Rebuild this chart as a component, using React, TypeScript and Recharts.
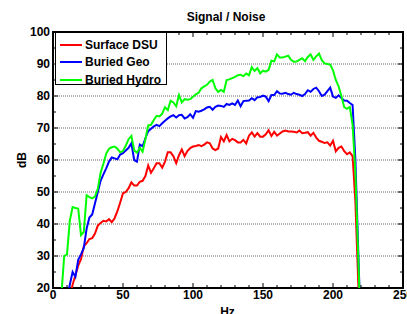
import { LineChart, Line, XAxis, YAxis, ReferenceLine, ReferenceArea, Legend } from 'recharts'

// frequency axis (Hz), sampled every 2 Hz
const FREQ = [
  4, 6, 8, 10, 12, 14, 16, 18, 20, 22,
  24, 26, 28, 30, 32, 34, 36, 38, 40, 42,
  44, 46, 48, 50, 52, 54, 56, 58, 60, 62,
  64, 66, 68, 70, 72, 74, 76, 78, 80, 82,
  84, 86, 88, 90, 92, 94, 96, 98, 100, 102,
  104, 106, 108, 110, 112, 114, 116, 118, 120, 122,
  124, 126, 128, 130, 132, 134, 136, 138, 140, 142,
  144, 146, 148, 150, 152, 154, 156, 158, 160, 162,
  164, 166, 168, 170, 172, 174, 176, 178, 180, 182,
  184, 186, 188, 190, 192, 194, 196, 198, 200, 202,
  204, 206, 208, 210, 212, 214, 216, 218, 220,
]

const SURFACE_DSU = [
  null, null, null, null, 17, 21, 24, 27, 29, 33,
  34, 35.3, 35.6, 37, 39.5, 40.3, 41, 40.8, 41.5, 40.6,
  41.8, 44, 46.7, 49.6, 50, 51.2, 53, 52, 52, 53.2,
  53.5, 55, 58.3, 56, 57.4, 59, 59, 57.6, 59.5, 62.4,
  62.4, 61.2, 59, 61.5, 63.3, 61.2, 62.8, 63.7, 64.2, 64.4,
  64.7, 64.3, 64.8, 65.5, 65.2, 63.6, 63.1, 63.6, 67.2, 65.8,
  67.8, 65.8, 66.6, 66.2, 65.5, 65.5, 66.3, 65.2, 67.6, 68.6,
  67.3, 68.4, 67.3, 67.3, 68, 69.3, 67.5, 68.8, 67.6, 68.3,
  68.9, 69.2, 68.9, 68.9, 68.8, 68.6, 69.2, 68.4, 68.5, 68.7,
  67.6, 68.5, 67, 66, 65.7, 65.3, 65.5, 64.5, 66, 62.7,
  63.8, 64.2, 62.8, 61.8, 62.4, 61.2, 47, 22, 5,
]

const BURIED_GEO = [
  null, null, null, 17, 21, 25, 23.5, 28.8, 30.5, 32.5,
  38.5, 42, 43, 46.5, 50, 53.5, 55.5, 57.4, 59.5, 60.8,
  60.5, 60.2, 61.7, 62.1, 63, 63.8, 65.2, 60, 59.5, 64.8,
  64.3, 66.8, 69, 69.8, 70.5, 71, 70.6, 71.5, 72.3, 73,
  73.6, 74, 73.3, 74, 74.1, 73, 73.4, 74.3, 73.2, 75.3,
  75.1, 75.4, 75.8, 76.4, 76.6, 75.7, 76.6, 77, 76.9, 76.6,
  77.5, 77.2, 77.7, 77.2, 78.6, 76.8, 78.4, 78.5, 78.6, 79.3,
  78.7, 79.6, 79.7, 80.1, 79.8, 78.4, 80.3, 80.3, 81.5, 80.8,
  80.7, 81, 80.6, 80.4, 81, 80.6, 80.4, 80, 80.6, 81.8,
  81.3, 82.2, 82.6, 81.5, 80, 80.4, 81.5, 82.6, 79.8, 79.4,
  80.2, 79.4, 78.6, 78.5, 77.8, 77.2, 60, 32, 5,
]

const BURIED_HYDRO = [
  10, 18, 30, 30.5, 41, 45.3, 45, 44.8, 36.5, 37.5,
  49, 48.4, 48, 48.6, 51, 56, 58.8, 62, 63.5, 64,
  64.2, 63.5, 62.4, 62.8, 64.5, 66.5, 67.5, 63, 62.3, 63.8,
  62.6, 66.5, 70.8, 71, 72.5, 73.8, 73.6, 74.5, 76.5, 75.6,
  78.5, 78, 76.8, 80.3, 78, 79, 78.8, 79, 79.8, 80.5,
  81, 82.4, 83, 83.5, 84.5, 85, 82.4, 81.3, 81.9, 81.3,
  85, 85.2, 85.6, 86, 86.5, 86.6, 86.2, 87, 86.5, 89,
  87.8, 88.7, 87.1, 87.9, 87.6, 88.2, 91, 90.8, 93, 92,
  92, 92.3, 92.6, 91.3, 90.7, 90.8, 91.3, 91.8, 90.9, 92.2,
  93, 91.3, 92.4, 93.3, 91.2, 90.2, 90, 89.8, 88, 85,
  83, 80, 76.5, 76, 76.6, 71, 56, 30, 5,
]

const X_TICKS = [0, 10, 20, 30, 40, 50, 60, 70, 80, 90, 100, 110, 120, 130, 140, 150, 160, 170, 180, 190, 200, 210, 220, 230, 240, 250]
const X_LABELS = [0, 50, 100, 150, 200, 250]
const Y_TICKS = [20, 25, 30, 35, 40, 45, 50, 55, 60, 65, 70, 75, 80, 85, 90, 95, 100]
const Y_LABELS = [20, 30, 40, 50, 60, 70, 80, 90, 100]
const GRID_Y = [30, 40, 50, 60, 70, 80, 90]

const SERIES = [
  { key: 'dsu', name: 'Surface DSU', color: '#ff0000' },
  { key: 'geo', name: 'Buried Geo', color: '#0000ff' },
  { key: 'hydro', name: 'Buried Hydro', color: '#00ff00' },
]

const data = FREQ.map((hz, i) => ({
  hz,
  dsu: SURFACE_DSU[i],
  geo: BURIED_GEO[i],
  hydro: BURIED_HYDRO[i],
}))

const FONT = '"Liberation Sans", Arial, Helvetica, sans-serif'
const PLOT_TOP = 32
const PLOT_BOTTOM = 288
const PLOT_LEFT = 53
const PLOT_RIGHT = 403

// MATLAB style ticks: pointing inward, on both sides of the box
const XTick = ({ x, payload }: any) => {
  const v = payload.value
  const major = X_LABELS.includes(v)
  const len = major ? 5 : 3
  return (
    <g>
      <line x1={x} x2={x} y1={PLOT_BOTTOM} y2={PLOT_BOTTOM - len} stroke="#000" />
      <line x1={x} x2={x} y1={PLOT_TOP} y2={PLOT_TOP + len} stroke="#000" />
      {major && (
        <text x={x} y={PLOT_BOTTOM + 10.5} textAnchor="middle" fontFamily={FONT} fontWeight="bold" fontSize={12} fill="#000">
          {v}
        </text>
      )}
    </g>
  )
}

const YTick = ({ y, payload }: any) => {
  const v = payload.value
  const major = Y_LABELS.includes(v)
  const len = major ? 5 : 3
  return (
    <g>
      <line x1={PLOT_LEFT} x2={PLOT_LEFT + len} y1={y} y2={y} stroke="#000" />
      <line x1={PLOT_RIGHT} x2={PLOT_RIGHT - len} y1={y} y2={y} stroke="#000" />
      {major && (
        <text x={PLOT_LEFT - 3} y={y + 4.3} textAnchor="end" fontFamily={FONT} fontWeight="bold" fontSize={12} fill="#000">
          {v}
        </text>
      )}
    </g>
  )
}

const LegendBox = () => (
  <div
    style={{
      width: 112,
      height: 53,
      border: '1px solid #000',
      background: '#fff',
      boxSizing: 'border-box',
      position: 'relative',
      fontFamily: FONT,
      fontWeight: 'bold',
      fontSize: 12,
      color: '#000',
    }}
  >
    {SERIES.map((s, i) => (
      <div key={s.key} style={{ position: 'absolute', left: 4, top: 3 + i * 17.5, height: 17, display: 'flex', alignItems: 'center', whiteSpace: 'nowrap' }}>
        <span style={{ width: 22, height: 2, background: s.color, display: 'inline-block', marginRight: 3 }} />
        <span>{s.name}</span>
      </div>
    ))}
  </div>
)

export default function App() {
  return (
    <div style={{ position: 'absolute', left: 0, top: 0, width: 407, height: 314, background: '#fff' }}>
      <LineChart width={407} height={314} data={data} margin={{ top: PLOT_TOP, right: 407 - PLOT_RIGHT, bottom: 0, left: 0 }}>
        <XAxis
          dataKey="hz"
          type="number"
          domain={[0, 250]}
          ticks={X_TICKS}
          interval={0}
          allowDataOverflow
          axisLine={false}
          tickLine={false}
          tickSize={0}
          height={314 - PLOT_BOTTOM}
          tick={XTick}
        />
        <YAxis
          type="number"
          domain={[20, 100]}
          ticks={Y_TICKS}
          interval={0}
          allowDataOverflow
          axisLine={false}
          tickLine={false}
          tickSize={0}
          width={PLOT_LEFT}
          tick={YTick}
        />
        {GRID_Y.map((v) => (
          <ReferenceLine key={v} y={v} stroke="#666" strokeDasharray="1 1" />
        ))}
        {SERIES.map((s) => (
          <Line
            key={s.key}
            type="linear"
            dataKey={s.key}
            name={s.name}
            stroke={s.color}
            strokeWidth={2}
            dot={false}
            activeDot={false}
            isAnimationActive={false}
          />
        ))}
        <ReferenceArea x1={0} x2={250} y1={20} y2={100} fill="none" stroke="#000" strokeWidth={2} ifOverflow="visible" />
        <Legend
          layout="vertical"
          align="center"
          verticalAlign="middle"
          wrapperStyle={{ left: 55, top: 32, width: 'auto' }}
          content={LegendBox}
        />
        <text x={226} y={20.5} textAnchor="middle" fontFamily={FONT} fontWeight="bold" fontSize={12} fill="#000">
          Signal / Noise
        </text>
        <text x={227.5} y={316} textAnchor="middle" fontFamily={FONT} fontWeight="bold" fontSize={12} fill="#000">
          Hz
        </text>
        <text transform="translate(25.5,160) rotate(-90)" textAnchor="middle" fontFamily={FONT} fontWeight="bold" fontSize={12} fill="#000">
          dB
        </text>
      </LineChart>
    </div>
  )
}
